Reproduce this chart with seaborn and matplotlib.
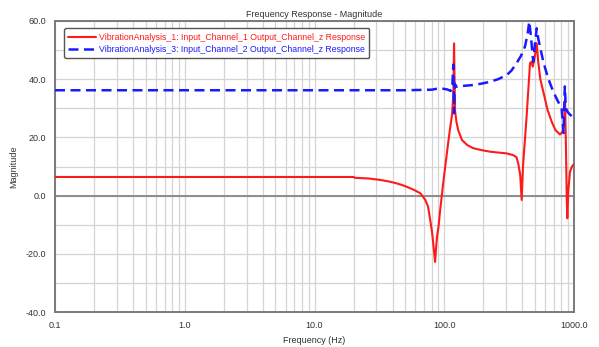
import matplotlib
matplotlib.use("Agg")
import matplotlib.pyplot as plt
import seaborn as sns
import pandas as pd
from matplotlib.ticker import FixedLocator, FixedFormatter, NullFormatter

# ---- data ----
red_freq = [0.1, 1, 10, 20, 20.5, 26, 32, 38, 43, 49, 54.9, 60, 65.4, 71.3, 75, 77.9,
            80.5, 82.2, 84, 85, 86.5, 88, 90.4, 92.7, 98, 104.4, 110, 114.8, 117.5, 119,
            121, 124, 128, 137, 150, 167, 195, 225, 260, 303, 340, 360, 372, 385, 395,
            405, 420, 432, 452, 458, 470, 481, 500, 516, 530, 550, 580, 625, 673, 720,
            780, 818, 840, 853, 868, 880, 888, 905, 931, 965, 1000]
red_mag = [6.4, 6.4, 6.4, 6.4, 6.1, 5.9, 5.4, 4.8, 4.2, 3.4, 2.5, 1.7, 0.8, -1.4, -3.8, -8.3,
           -12.5, -16.4, -20.5, -22.8, -18.0, -14.0, -10.6, -5.5, 4.0, 14.0, 22.0, 27.7, 34.6, 52.3,
           29.4, 25.5, 22.5, 19.1, 17.4, 16.3, 15.6, 15.1, 14.8, 14.5, 13.9, 13.2, 11.0, 7.1, -1.5,
           10.5, 20.0, 27.7, 41.4, 45.5, 46.0, 44.3, 48.0, 52.3, 46.0, 40.0, 35.7, 29.5, 25.4, 22.5,
           21.0, 22.0, 25.0, 32.9, 15.0, -2.0, -7.8, 2.0, 8.2, 10.0, 10.8]

blue_freq = [0.1, 1, 10, 50, 80, 92.7, 105, 112, 115, 117.5, 119, 120.5, 124, 140, 167,
             195, 225, 260, 303, 330, 361, 390, 419, 440, 452, 465, 485, 500, 516, 530,
             580, 630, 692, 750, 803, 830, 850, 865, 900, 950, 1000]
blue_mag = [36.2, 36.2, 36.2, 36.2, 36.4, 36.9, 36.5, 36.0, 36.5, 45.0, 28.3, 38.5, 37.4,
            37.7, 38.0, 38.5, 39.1, 40.0, 41.4, 43.0, 45.5, 48.0, 51.2, 55.8, 59.8, 55.0,
            46.0, 52.0, 57.5, 54.0, 46.0, 40.5, 35.7, 32.5, 30.0, 21.5, 37.5, 30.0, 28.5,
            27.5, 26.5]

red_label = "VibrationAnalysis_1: Input_Channel_1 Output_Channel_z Response"
blue_label = "VibrationAnalysis_3: Input_Channel_2 Output_Channel_z Response"

x_ticks = [0.1, 1, 10, 100, 1000]
x_tick_labels = ["0.1", "1.0", "10.0", "100.0", "1000.0"]
y_ticks = [-40, -20, 0, 20, 40, 60]
y_tick_labels = ["-40.0", "-20.0", "0.0", "20.0", "40.0", "60.0"]

# ---- plot ----
sns.set_style("white")
plt.rcParams['font.family'] = ['Liberation Sans', 'DejaVu Sans']

fig = plt.figure(figsize=(5.99, 3.47), dpi=100)
ax = fig.add_axes([55/599, 1-312/347, (574-55)/599, (312-21)/347])

red_df = pd.DataFrame({"f": red_freq, "m": red_mag})
blue_df = pd.DataFrame({"f": blue_freq, "m": blue_mag})

sns.lineplot(data=red_df, x="f", y="m", ax=ax, color="#ff1a1a", lw=1.5,
             label=red_label, sort=False, zorder=4)
sns.lineplot(data=blue_df, x="f", y="m", ax=ax, color="#1a1aff", lw=1.8,
             label=blue_label, sort=False, zorder=5)
ax.lines[-1].set_linestyle((0, (4, 2.2)))

ax.set_xscale("log")
ax.set_xlim(0.1, 1000)
ax.set_ylim(-40, 60)

ax.xaxis.set_major_locator(FixedLocator(x_ticks))
ax.xaxis.set_major_formatter(FixedFormatter(x_tick_labels))
ax.xaxis.set_minor_formatter(NullFormatter())
ax.yaxis.set_major_locator(FixedLocator(y_ticks))
ax.yaxis.set_major_formatter(FixedFormatter(y_tick_labels))
ax.yaxis.set_minor_locator(FixedLocator([-30, -10, 10, 30, 50]))

ax.grid(True, which="both", color="#d4d4d4", lw=0.9, zorder=0)
ax.axhline(0, color="#8c8c8c", lw=1.4, zorder=1)

for s in ax.spines.values():
    s.set_color("#7a7a7a")
    s.set_linewidth(1.4)

ax.tick_params(axis="both", which="both", direction="out", color="#7a7a7a",
               labelsize=6.5, labelcolor="#333333", width=0.8)
ax.tick_params(axis="both", which="major", length=3)
ax.tick_params(axis="both", which="minor", length=2)

ax.set_title("Frequency Response - Magnitude", fontsize=6.5, color="#333333", pad=3)
ax.set_xlabel("Frequency (Hz)", fontsize=6.5, color="#333333", labelpad=4)
ax.set_ylabel("Magnitude", fontsize=6.5, color="#333333", labelpad=5)

leg = ax.legend(loc="upper left", bbox_to_anchor=(0.017, 0.975), fontsize=6.3,
                frameon=True, fancybox=True, handlelength=3.2, handletextpad=0.3,
                borderpad=0.5, labelspacing=0.35, borderaxespad=0)
leg.get_frame().set_edgecolor("#555555")
leg.get_frame().set_linewidth(1.0)
leg.get_frame().set_alpha(1)
for t, c in zip(leg.get_texts(), ["#ff1a1a", "#1a1aff"]):
    t.set_color(c)
leg.get_lines()[1].set_linestyle((0, (4, 2.2)))

fig.savefig("out.png", dpi=100)
